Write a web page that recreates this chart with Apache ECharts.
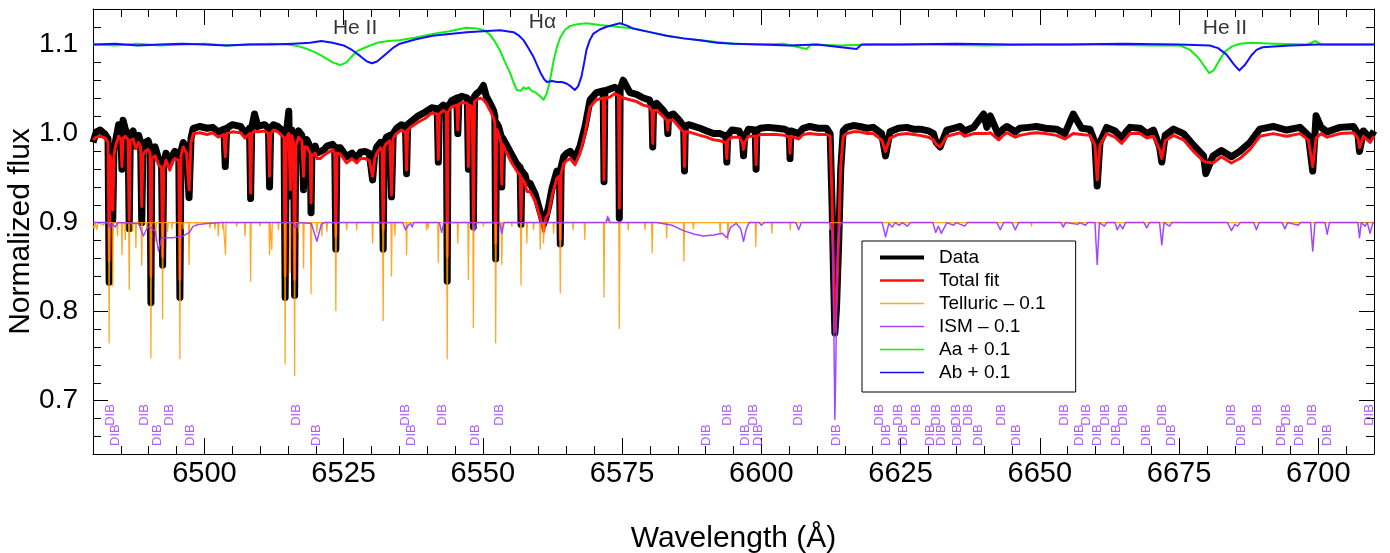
<!DOCTYPE html>
<html><head><meta charset="utf-8">
<script src="https://cdn.jsdelivr.net/npm/echarts@6.0.0/dist/echarts.min.js"></script>
<style>html,body{margin:0;padding:0;background:#fff}#chart{width:1390px;height:553px}</style>
</head><body><div id="chart"></div>
<script>
// ---------- axis ticks ----------
const xMajorTicks = [6500, 6525, 6550, 6575, 6600, 6625, 6650, 6675, 6700];
const xMinorTicks = [6485,6490,6495,6505,6510,6515,6520,6530,6535,6540,6545,6555,6560,6565,6570,6580,6585,6590,6595,6605,6610,6615,6620,6630,6635,6640,6645,6655,6660,6665,6670,6680,6685,6690,6695,6705];
const yMajorTicks = [0.7, 0.8, 0.9, 1.0, 1.1];
const yMinorTicks = [0.66,0.68,0.72,0.74,0.76,0.78,0.82,0.84,0.86,0.88,0.92,0.94,0.96,0.98,1.02,1.04,1.06,1.08,1.12];

// ---------- observed spectrum and total fit (shared wavelength grid) ----------
const waveFit = [
6480.0,6480.6,6481.3,6482.2,6482.7,6482.9,6483.1,6483.35,6483.55,6483.75,
6484.0,6484.6,6485.0,6485.2,6485.4,6485.8,6486.3,6486.5,6486.7,6487.2,
6487.7,6488.2,6488.55,6488.75,6488.95,6489.35,6489.9,6490.25,6490.4,6490.55,
6491.15,6491.75,6492.3,6492.5,6492.7,6493.1,6493.8,6494.2,6494.7,6495.4,
6495.6,6495.8,6496.2,6496.8,6497.25,6497.6,6498.0,6499.2,6500.5,6501.5,
6502.5,6503.5,6503.75,6504.0,6505.0,6506.5,6507.3,6508.1,6508.3,6508.5,
6509.0,6509.6,6510.8,6511.5,6511.7,6511.9,6512.4,6513.2,6513.9,6514.3,
6514.5,6514.7,6515.15,6515.45,6515.7,6516.0,6516.2,6516.4,6516.9,6517.5,
6517.8,6518.0,6518.4,6519.0,6519.15,6519.3,6519.9,6520.2,6520.8,6521.5,
6522.0,6523.0,6523.4,6523.6,6523.8,6524.4,6525.55,6526.5,6527.35,6528.0,
6528.85,6529.6,6530.2,6530.6,6530.95,6531.6,6531.9,6532.1,6532.3,6532.7,
6533.3,6533.6,6533.9,6534.5,6535.4,6536.1,6536.3,6536.5,6537.2,6538.4,
6539.6,6540.8,6541.8,6542.0,6542.2,6542.9,6543.45,6543.6,6543.75,6544.4,
6545.3,6545.5,6545.7,6546.2,6547.2,6547.4,6547.6,6547.8,6548.1,6548.3,
6548.5,6548.9,6549.5,6550.1,6550.6,6551.3,6551.9,6552.15,6552.3,6552.45,
6552.8,6553.25,6553.4,6553.55,6554.0,6555.2,6556.1,6556.7,6556.85,6557.0,
6557.6,6557.9,6558.5,6559.4,6560.3,6560.9,6561.3,6561.8,6562.4,6563.3,
6563.75,6563.9,6564.05,6564.5,6565.1,6565.7,6566.55,6567.45,6568.35,6569.25,
6570.4,6571.6,6571.75,6571.9,6572.8,6573.7,6574.35,6574.5,6574.65,6575.2,
6576.4,6577.6,6578.8,6579.9,6580.35,6580.5,6580.65,6581.2,6582.4,6583.05,
6583.2,6583.35,6584.2,6585.4,6586.05,6586.2,6586.35,6586.9,6588.0,6589.0,
6590.2,6591.4,6592.6,6593.65,6593.8,6593.95,6594.7,6596.0,6596.6,6596.8,
6597.0,6597.7,6598.9,6599.05,6599.2,6599.8,6601.2,6602.8,6604.2,6605.0,
6605.15,6605.3,6606.7,6607.5,6608.7,6610.2,6611.7,6612.35,6612.7,6613.0,
6613.2,6613.5,6613.9,6614.25,6614.7,6615.3,6616.5,6617.7,6619.0,6620.1,
6621.6,6622.3,6623.1,6624.6,6626.1,6627.3,6628.5,6630.0,6630.9,6631.4,
6632.1,6632.4,6633.3,6634.5,6635.7,6636.5,6638.1,6639.9,6640.5,6641.1,
6642.6,6643.4,6644.1,6645.6,6646.4,6648.0,6649.4,6651.0,6653.0,6654.5,
6656.0,6657.5,6659.0,6659.9,6660.3,6660.8,6662.0,6663.5,6664.7,6665.5,
6666.2,6668.0,6669.2,6670.4,6671.5,6671.9,6672.5,6674.0,6675.8,6677.6,
6679.4,6679.8,6681.1,6682.6,6684.4,6685.9,6687.7,6689.5,6691.9,6694.3,
6696.7,6698.2,6699.0,6699.6,6700.5,6701.6,6703.9,6706.3,6707.1,6707.4,
6708.1,6709.3,6710.0];

const fluxFit = [
0.993,0.996,0.997,0.995,0.990,0.857,0.975,0.960,0.914,0.975,
0.985,0.997,0.993,0.963,0.995,0.997,0.993,0.903,0.992,0.994,
0.983,0.990,0.985,0.918,0.975,0.980,0.982,0.978,0.840,0.972,
0.975,0.965,0.962,0.862,0.960,0.970,0.959,0.968,0.972,0.970,
0.836,0.975,0.985,0.978,0.937,0.990,1.000,1.001,0.999,1.001,
0.996,0.999,0.974,1.000,1.002,1.001,0.995,1.000,0.933,1.000,
1.003,1.002,1.003,1.000,0.952,1.000,1.004,1.002,0.998,0.995,
0.840,0.995,1.000,0.937,0.998,0.990,0.836,0.985,0.996,0.992,
0.952,0.985,0.985,0.978,0.922,0.975,0.978,0.972,0.972,0.976,
0.978,0.982,0.978,0.885,0.978,0.977,0.967,0.972,0.967,0.972,
0.972,0.970,0.952,0.972,0.978,0.984,0.980,0.892,0.985,0.989,
0.992,0.931,0.995,1.000,1.004,1.002,0.959,1.004,1.008,1.013,
1.017,1.023,1.022,0.971,1.022,1.026,1.024,0.862,1.024,1.030,
1.032,1.004,1.033,1.035,1.034,0.963,1.032,1.034,1.030,0.902,
1.036,1.038,1.040,1.038,1.034,1.026,1.018,1.012,0.877,1.005,
1.000,0.990,0.943,0.988,0.982,0.967,0.958,0.953,0.903,0.950,
0.944,0.935,0.935,0.924,0.905,0.890,0.905,0.910,0.930,0.950,
0.952,0.881,0.955,0.966,0.970,0.972,0.965,0.978,1.000,1.030,
1.038,1.040,0.948,1.040,1.041,1.045,1.043,0.916,1.042,1.040,
1.038,1.036,1.032,1.030,1.025,0.989,1.026,1.026,1.019,1.015,
1.004,1.015,1.015,1.006,1.002,0.963,1.002,1.002,1.000,0.998,
0.996,0.993,0.992,0.990,0.972,0.992,0.996,0.996,0.990,0.982,
0.990,0.997,0.997,0.965,0.997,0.999,0.999,0.999,0.998,0.996,
0.978,0.997,0.994,0.999,1.000,0.999,0.999,0.997,0.926,0.832,
0.778,0.814,0.888,0.963,0.997,1.000,1.002,1.002,1.000,1.000,
0.993,0.980,0.995,0.999,1.000,0.999,0.998,0.996,0.993,0.988,
0.985,0.987,0.997,0.999,1.001,0.997,1.000,1.000,1.000,1.001,
0.993,0.998,1.001,0.996,0.998,1.000,1.001,1.000,0.998,0.994,
1.000,0.999,0.998,0.987,0.948,0.987,1.000,0.996,0.989,0.995,
1.000,1.000,0.995,0.997,0.982,0.972,0.992,0.998,0.993,0.980,
0.969,0.968,0.967,0.974,0.967,0.972,0.982,0.997,1.000,0.997,
1.000,0.993,0.963,0.995,1.000,0.996,1.000,1.001,0.995,0.984,
0.997,0.990,0.997];

const fluxData = [
0.990,1.002,1.004,0.999,0.994,0.833,0.975,0.955,0.903,0.980,
0.990,1.010,1.000,0.960,1.015,1.005,0.998,0.893,0.998,1.003,
0.986,0.998,0.990,0.900,0.980,0.990,0.992,0.985,0.810,0.978,
0.985,0.972,0.970,0.852,0.965,0.978,0.966,0.975,0.980,0.978,
0.816,0.980,0.990,0.985,0.928,0.995,1.006,1.008,1.006,1.007,
1.002,1.005,0.963,1.006,1.010,1.008,1.000,1.006,0.927,1.007,
1.022,1.008,1.010,1.006,0.940,1.006,1.010,1.008,1.004,1.000,
0.816,1.000,1.025,0.930,1.004,0.995,0.818,0.990,1.003,0.998,
0.937,0.990,0.993,0.985,0.911,0.980,0.986,0.978,0.980,0.982,
0.986,0.988,0.985,0.870,0.984,0.984,0.974,0.978,0.972,0.979,
0.980,0.978,0.948,0.978,0.985,0.990,0.985,0.870,0.990,0.996,
0.998,0.929,1.000,1.006,1.010,1.008,0.955,1.010,1.014,1.020,
1.024,1.029,1.028,0.968,1.028,1.032,1.030,0.834,1.030,1.037,
1.040,1.000,1.040,1.042,1.040,0.960,1.038,1.040,1.036,0.895,
1.042,1.045,1.048,1.054,1.042,1.034,1.026,1.020,0.859,1.012,
1.008,0.998,0.940,0.995,0.990,0.976,0.966,0.962,0.898,0.958,
0.953,0.945,0.944,0.932,0.912,0.898,0.905,0.918,0.938,0.958,
0.958,0.876,0.962,0.974,0.978,0.980,0.972,0.986,1.008,1.038,
1.046,1.048,0.946,1.048,1.050,1.052,1.050,0.905,1.050,1.060,
1.046,1.044,1.040,1.038,1.030,0.985,1.032,1.034,1.026,1.020,
1.000,1.020,1.022,1.014,1.008,0.958,1.008,1.010,1.008,1.006,
1.003,1.000,1.000,0.997,0.968,0.998,1.004,1.003,0.995,0.975,
0.996,1.005,1.004,0.960,1.004,1.006,1.007,1.006,1.005,1.002,
0.972,1.003,1.000,1.006,1.008,1.006,1.006,1.000,0.920,0.830,
0.776,0.805,0.880,0.960,1.003,1.007,1.009,1.008,1.006,1.007,
1.000,0.975,1.002,1.006,1.007,1.005,1.005,1.003,1.000,0.990,
0.985,0.990,1.004,1.006,1.008,1.003,1.007,1.022,1.007,1.020,
0.998,1.005,1.008,1.002,1.006,1.007,1.008,1.006,1.005,1.000,
1.022,1.006,1.005,0.990,0.941,0.990,1.007,1.003,0.995,1.002,
1.007,1.006,1.000,1.004,0.985,0.968,0.998,1.005,1.000,0.987,
0.975,0.955,0.975,0.981,0.974,0.980,0.990,1.005,1.008,1.004,
1.007,0.998,0.958,1.020,1.007,1.002,1.007,1.008,1.000,0.980,
1.003,0.995,1.003];

// ---------- telluric model (- 0.1) ----------
const telluricPoints = [
[6480.0,0.897],[6480.2,0.893],[6480.4,0.9],[6480.7,0.892],[6480.9,0.9],[6481.9,0.897],[6482.0,0.9],
[6482.8,0.9],[6482.9,0.765],[6483.0,0.9],[6483.45,0.9],[6483.55,0.829],[6483.65,0.9],
[6484.3,0.9],[6484.4,0.885],[6484.5,0.9],[6485.1,0.9],[6485.2,0.864],[6485.3,0.9],
[6485.7,0.9],[6485.8,0.881],[6485.9,0.9],[6486.4,0.9],[6486.5,0.825],[6486.6,0.9],
[6487.0,0.9],[6487.1,0.89],[6487.2,0.9],[6487.6,0.9],[6487.7,0.872],[6487.8,0.9],
[6488.65,0.9],[6488.75,0.852],[6488.85,0.9],[6489.6,0.9],[6489.65,0.892],[6489.75,0.9],
[6490.3,0.9],[6490.4,0.748],[6490.5,0.9],[6491.2,0.9],[6491.3,0.879],[6491.4,0.9],
[6492.4,0.9],[6492.5,0.792],[6492.6,0.9],[6493.3,0.9],[6493.4,0.89],[6493.5,0.9],
[6494.1,0.9],[6494.15,0.893],[6494.25,0.9],[6495.5,0.9],[6495.6,0.747],[6495.7,0.9],
[6496.1,0.9],[6496.2,0.893],[6496.3,0.9],[6497.15,0.9],[6497.25,0.853],[6497.35,0.9],
[6498.5,0.9],[6498.6,0.896],[6498.7,0.9],[6500.9,0.9],[6501.0,0.894],[6501.1,0.9],
[6501.8,0.9],[6501.9,0.893],[6502.0,0.9],[6502.4,0.9],[6502.5,0.885],[6502.6,0.9],
[6503.2,0.9],[6503.3,0.893],[6503.4,0.9],[6503.7,0.9],[6503.8,0.864],[6503.9,0.9],
[6505.7,0.9],[6505.8,0.896],[6505.9,0.9],[6507.2,0.9],[6507.3,0.885],[6507.4,0.9],
[6508.2,0.9],[6508.3,0.834],[6508.4,0.9],[6509.9,0.9],[6510.0,0.896],[6510.1,0.9],
[6511.6,0.9],[6511.7,0.864],[6511.8,0.9],[6512.0,0.9],[6512.1,0.870],[6512.2,0.9],
[6513.2,0.9],[6513.3,0.892],[6513.4,0.9],[6514.4,0.9],[6514.5,0.741],[6514.6,0.9],
[6515.3,0.9],[6515.4,0.844],[6515.5,0.9],[6516.1,0.9],[6516.2,0.728],[6516.3,0.9],
[6516.8,0.9],[6516.9,0.889],[6517.0,0.9],[6517.7,0.9],[6517.8,0.849],[6517.9,0.9],
[6519.05,0.9],[6519.15,0.820],[6519.25,0.9],[6520.1,0.9],[6520.2,0.889],[6520.3,0.9],
[6521.0,0.9],[6521.1,0.885],[6521.2,0.9],[6521.9,0.9],[6522.0,0.89],[6522.1,0.9],
[6523.5,0.9],[6523.6,0.801],[6523.7,0.9],[6525.45,0.9],[6525.55,0.892],[6525.65,0.9],
[6527.25,0.9],[6527.35,0.892],[6527.45,0.9],[6530.1,0.9],[6530.2,0.877],[6530.3,0.9],
[6532.0,0.9],[6532.1,0.790],[6532.2,0.9],[6533.5,0.9],[6533.6,0.840],[6533.7,0.9],
[6534.1,0.9],[6534.2,0.885],[6534.3,0.9],[6536.2,0.9],[6536.3,0.864],[6536.4,0.9],
[6539.8,0.9],[6539.9,0.892],[6540.0,0.9],[6540.1,0.9],[6540.2,0.894],[6540.3,0.9],
[6541.9,0.9],[6542.0,0.855],[6542.1,0.9],[6543.5,0.9],[6543.6,0.747],[6543.7,0.9],
[6545.4,0.9],[6545.5,0.877],[6545.6,0.9],[6547.3,0.9],[6547.4,0.836],[6547.5,0.9],
[6548.2,0.9],[6548.3,0.782],[6548.4,0.9],[6550.0,0.9],[6550.1,0.896],[6550.2,0.9],
[6552.2,0.9],[6552.3,0.765],[6552.4,0.9],[6553.3,0.9],[6553.4,0.853],[6553.5,0.9],
[6555.1,0.9],[6555.2,0.896],[6555.3,0.9],[6556.75,0.9],[6556.85,0.830],[6556.95,0.9],
[6557.8,0.9],[6557.9,0.877],[6558.0,0.9],[6559.0,0.9],[6559.1,0.892],[6559.2,0.9],
[6560.2,0.9],[6560.3,0.870],[6560.4,0.9],[6560.8,0.9],[6560.9,0.877],[6561.0,0.9],
[6562.6,0.9],[6562.7,0.888],[6562.8,0.9],[6563.8,0.9],[6563.9,0.821],[6564.0,0.9],
[6566.1,0.9],[6566.2,0.892],[6566.3,0.9],[6568.2,0.9],[6568.3,0.881],[6568.4,0.9],
[6571.65,0.9],[6571.75,0.816],[6571.85,0.9],[6574.4,0.9],[6574.5,0.781],[6574.6,0.9],
[6576.0,0.9],[6576.1,0.892],[6576.2,0.9],[6579.0,0.9],[6579.1,0.892],[6579.2,0.9],
[6580.3,0.9],[6580.4,0.866],[6580.5,0.9],[6582.9,0.9],[6583.0,0.883],[6583.1,0.9],
[6586.0,0.9],[6586.1,0.857],[6586.2,0.9],[6587.7,0.9],[6587.8,0.893],[6587.9,0.9],
[6592.5,0.9],[6592.6,0.888],[6592.7,0.9],[6593.9,0.9],[6594.0,0.881],[6594.1,0.9],
[6598.9,0.9],[6599.0,0.873],[6599.1,0.9],[6601.8,0.9],[6601.9,0.888],[6602.0,0.9],
[6605.1,0.9],[6605.2,0.892],[6605.3,0.9],[6612.2,0.9],[6612.3,0.892],[6612.4,0.9],
[6648.4,0.9],[6648.5,0.896],[6648.6,0.9],[6710.0,0.9]];

// ---------- interstellar model (- 0.1) ----------
const ismPoints = [
[6480,0.9],[6482.7,0.9],[6483.1,0.894],[6483.5,0.898],[6484.0,0.895],[6484.4,0.9],
[6488.2,0.899],[6489.05,0.885],[6489.8,0.895],[6490.5,0.894],[6491.2,0.89],[6491.75,0.868],
[6492.3,0.883],[6493.5,0.883],[6494.4,0.883],[6495.5,0.884],[6496.2,0.885],[6497.3,0.889],
[6497.6,0.892],[6498.0,0.896],[6499.0,0.898],[6500.5,0.899],[6503,0.9],
[6515.9,0.9],[6516.4,0.894],[6516.9,0.9],[6519.2,0.899],[6520.2,0.879],[6521.0,0.898],[6521.5,0.9],
[6535.6,0.9],[6536.1,0.892],[6536.6,0.897],[6537.0,0.899],[6537.3,0.895],[6537.6,0.9],
[6542.2,0.9],[6542.6,0.889],[6543.0,0.9],[6548.2,0.9],[6548.5,0.891],[6548.9,0.9],
[6553.0,0.9],[6553.4,0.888],[6553.8,0.9],
[6572.1,0.9],[6572.3,0.904],[6572.4,0.907],[6572.5,0.902],[6572.6,0.905],[6572.8,0.9],
[6581.2,0.9],[6584,0.897],[6586,0.891],[6588,0.887],[6589.6,0.885],[6591.5,0.886],[6593.0,0.888],
[6593.8,0.883],[6594.5,0.895],[6595.5,0.899],[6596.3,0.893],[6596.8,0.879],[6597.3,0.893],[6597.8,0.9],
[6599.6,0.9],[6600.0,0.897],[6600.5,0.9],[6606.2,0.9],[6606.7,0.892],[6607.2,0.9],
[6612.3,0.9],[6612.7,0.89],[6612.9,0.85],[6613.05,0.76],[6613.2,0.679],[6613.35,0.73],
[6613.5,0.8],[6613.7,0.87],[6614.0,0.895],[6614.4,0.9],
[6621.7,0.9],[6622.3,0.884],[6622.9,0.899],[6623.5,0.895],[6624.0,0.9],[6624.8,0.897],[6625.3,0.9],
[6626.2,0.896],[6626.8,0.9],[6630.8,0.9],[6631.3,0.889],[6631.8,0.896],[6632.3,0.888],[6632.9,0.895],
[6633.3,0.9],[6634.5,0.897],[6635,0.9],[6636.5,0.896],[6637,0.9],
[6642.3,0.9],[6642.9,0.892],[6643.5,0.9],[6645.0,0.9],[6645.6,0.892],[6646.2,0.9],
[6653.8,0.9],[6654.2,0.895],[6654.6,0.9],[6656.8,0.898],[6657.2,0.9],[6658.2,0.897],[6658.6,0.9],
[6659.9,0.9],[6660.3,0.853],[6660.7,0.9],[6661.6,0.896],[6662,0.9],
[6663.5,0.9],[6663.9,0.892],[6664.4,0.898],[6664.9,0.893],[6665.4,0.9],
[6668.7,0.9],[6669.2,0.894],[6669.7,0.9],[6671.5,0.9],[6671.9,0.875],[6672.3,0.9],[6673.3,0.896],[6673.7,0.9],
[6683.7,0.9],[6684.4,0.891],[6685.0,0.898],[6685.5,0.896],[6686,0.9],
[6688.4,0.9],[6688.9,0.892],[6689.4,0.9],[6693.5,0.9],[6694.0,0.893],[6694.5,0.9],[6696.4,0.897],[6696.8,0.9],
[6698.6,0.9],[6699.0,0.868],[6699.4,0.9],[6701.2,0.9],[6701.6,0.887],[6702.0,0.9],
[6707.1,0.9],[6707.4,0.883],[6707.7,0.9],[6708.4,0.896],[6708.8,0.9],[6709.3,0.888],[6709.8,0.9],[6710,0.9]];

// ---------- stellar components (+ 0.1) ----------
const aaPoints = [
[6480,1.1],[6484,1.099],[6488,1.101],[6492,1.099],[6496,1.1],[6500,1.101],[6504,1.099],[6508,1.1],
[6512,1.101],[6515,1.1],[6517,1.098],[6518.5,1.095],[6520,1.091],[6521.5,1.086],[6523,1.080],
[6524.4,1.077],[6525.5,1.080],[6526.5,1.087],[6527.5,1.093],[6529,1.097],[6531,1.102],[6533,1.104],
[6535,1.105],[6538,1.108],[6541,1.112],[6544,1.115],[6547,1.119],[6549,1.118],[6550.3,1.116],
[6551.3,1.111],[6552.2,1.103],[6553.1,1.093],[6554,1.080],[6554.9,1.068],[6555.6,1.056],[6556.1,1.049],
[6556.8,1.048],[6557.3,1.052],[6557.8,1.050],[6558.2,1.052],[6558.8,1.048],[6559.5,1.046],[6560.3,1.042],
[6560.9,1.038],[6561.4,1.044],[6561.8,1.053],[6562.3,1.068],[6562.7,1.082],[6563.3,1.097],[6563.9,1.108],
[6564.8,1.117],[6565.7,1.121],[6567,1.123],[6568.6,1.124],[6571,1.122],[6574,1.120],[6577,1.118],
[6580,1.114],[6583,1.110],[6586,1.107],[6589,1.105],[6592,1.103],[6595,1.101],[6600,1.100],[6604,1.101],
[6608.1,1.095],[6609,1.1],[6614,1.099],[6620,1.1],[6630,1.1],[6640,1.099],[6650,1.1],[6660,1.1],
[6670,1.099],[6675.2,1.099],[6677,1.094],[6678.5,1.085],[6679.5,1.076],[6680.4,1.068],[6681.2,1.071],
[6682.2,1.082],[6683.2,1.092],[6684.5,1.098],[6685.9,1.101],[6688,1.102],[6692,1.101],[6698,1.100],
[6699.5,1.104],[6700.5,1.100],[6705,1.1],[6710,1.1]];

const abPoints = [
[6480,1.1],[6484,1.101],[6488,1.099],[6492,1.1],[6496,1.101],[6500,1.1],[6504,1.099],[6508,1.1],
[6512,1.1],[6516,1.101],[6519,1.102],[6521,1.104],[6523,1.102],[6525,1.099],[6526.5,1.094],[6528,1.087],
[6529.2,1.081],[6530.1,1.079],[6531,1.081],[6532.5,1.089],[6534,1.097],[6535.1,1.101],[6538,1.106],
[6541,1.110],[6544,1.112],[6547.1,1.114],[6550,1.115],[6553.1,1.116],[6555.5,1.114],[6556.5,1.110],
[6557.3,1.105],[6558.2,1.096],[6559.1,1.086],[6560.3,1.069],[6561,1.061],[6561.5,1.058],[6562.4,1.059],
[6563.3,1.058],[6564.2,1.058],[6565.1,1.056],[6565.8,1.053],[6566.5,1.049],[6567.1,1.053],[6567.7,1.064],
[6568.2,1.080],[6568.6,1.094],[6569.2,1.105],[6569.8,1.112],[6571,1.117],[6572.2,1.120],[6573.4,1.122],
[6574.6,1.124],[6576,1.121],[6577,1.118],[6580,1.114],[6583,1.110],[6586,1.107],[6589,1.105],[6592,1.102],
[6595,1.101],[6600,1.1],[6605,1.099],[6610,1.1],[6617.1,1.095],[6618,1.1],[6625,1.1],[6635,1.101],
[6645,1.1],[6655,1.1],[6665,1.101],[6675,1.1],[6680.5,1.099],[6682,1.096],[6683.5,1.089],[6684.8,1.078],
[6685.8,1.071],[6686.8,1.077],[6688,1.088],[6688.9,1.094],[6690,1.097],[6692,1.098],[6695,1.099],
[6700,1.1],[6705,1.1],[6710,1.1]];

// ---------- DIB markers (wavelengths) ----------
const dibUpper = [6483.07,6489.17,6493.72,6516.46,6536.16,6542.73,6552.91,6593.95,6598.56,6606.64,6621.18,6624.6,6627.78,6631.37,6634.96,6637.16,6643.16,6654.34,6658.42,6661.83,6664.99,6671.99,6684.45,6689.05,6694.33,6699.0,6709.1];
const dibLower = [6483.97,6491.56,6497.43,6520.18,6537.23,6548.6,6590.07,6597.07,6599.46,6613.54,6622.51,6625.49,6630.41,6632.39,6635.19,6638.96,6645.73,6657.09,6660.39,6663.68,6669.19,6673.68,6686.12,6693.43,6696.59,6701.62];
const dibRowLevels = [0.6838, 0.6613];

// ---------- line identifications ----------
const lineIdNames = ['He II', 'Hα', 'He II'];
const lineIdWave = [6527.06, 6560.7, 6683.25];
const lineIdLevel = [1.118, 1.125, 1.118];

// ---------- chart ----------
const FONT = '"Liberation Sans", Arial, Helvetica, sans-serif';
const chart = echarts.init(document.getElementById('chart'), null, {renderer: 'canvas'});

function lineSeries(name, data, color, width, opacity) {
  return {
    name, type: 'line', data, symbol: 'none', showSymbol: false,
    lineStyle: {color, width, opacity, join: 'round'},
    itemStyle: {color}, animation: false, silent: true, clip: true
  };
}

const xBase = {type: 'value', min: 6480, max: 6710, splitLine: {show: false}};
const yBase = {type: 'value', min: 0.64, max: 1.14, splitLine: {show: false}};
const axisCol = '#000';

const option = {
  animation: false,
  textStyle: {fontFamily: FONT},
  grid: {left: 93, right: 16, top: 9, bottom: 99, containLabel: false, outerBoundsMode: 'none'},
  xAxis: [
    Object.assign({}, xBase, {
      position: 'bottom',
      axisLine: {show: true, lineStyle: {color: axisCol, width: 1}},
      axisTick: {show: true, inside: true, length: 16, customValues: xMajorTicks, lineStyle: {color: axisCol}},
      axisLabel: {show: true, customValues: xMajorTicks, fontSize: 29, color: '#000', margin: 5, fontFamily: FONT,
                  formatter: v => String(Math.round(v))},
      name: 'Wavelength (Å)', nameLocation: 'middle', nameGap: 70, nameMoveOverlap: false,
      nameTextStyle: {fontSize: 30, color: '#000', fontFamily: FONT}
    }),
    Object.assign({}, xBase, {
      position: 'bottom', axisLine: {show: false},
      axisTick: {show: true, inside: true, length: 8, customValues: xMinorTicks, lineStyle: {color: axisCol}},
      axisLabel: {show: false}
    }),
    Object.assign({}, xBase, {
      position: 'top',
      axisLine: {show: true, lineStyle: {color: axisCol, width: 1}},
      axisTick: {show: true, inside: true, length: 16, customValues: xMajorTicks, lineStyle: {color: axisCol}},
      axisLabel: {show: false}
    }),
    Object.assign({}, xBase, {
      position: 'top', axisLine: {show: false},
      axisTick: {show: true, inside: true, length: 8, customValues: xMinorTicks, lineStyle: {color: axisCol}},
      axisLabel: {show: false}
    })
  ],
  yAxis: [
    Object.assign({}, yBase, {
      position: 'left',
      axisLine: {show: true, lineStyle: {color: axisCol, width: 1}},
      axisTick: {show: true, inside: true, length: 15, customValues: yMajorTicks, lineStyle: {color: axisCol}},
      axisLabel: {show: true, customValues: yMajorTicks, fontSize: 28, color: '#000', margin: 15, fontFamily: FONT,
                  formatter: v => Number(v).toFixed(1)},
      name: 'Normalized flux', nameLocation: 'middle', nameGap: 57, nameMoveOverlap: false,
      nameTextStyle: {fontSize: 30, color: '#000', fontFamily: FONT}
    }),
    Object.assign({}, yBase, {
      position: 'left', axisLine: {show: false},
      axisTick: {show: true, inside: true, length: 8, customValues: yMinorTicks, lineStyle: {color: axisCol}},
      axisLabel: {show: false}
    }),
    Object.assign({}, yBase, {
      position: 'right',
      axisLine: {show: true, lineStyle: {color: axisCol, width: 1}},
      axisTick: {show: true, inside: true, length: 15, customValues: yMajorTicks, lineStyle: {color: axisCol}},
      axisLabel: {show: false}
    }),
    Object.assign({}, yBase, {
      position: 'right', axisLine: {show: false},
      axisTick: {show: true, inside: true, length: 8, customValues: yMinorTicks, lineStyle: {color: axisCol}},
      axisLabel: {show: false}
    })
  ],
  legend: {
    orient: 'vertical', left: 862, top: 241,
    itemWidth: 44, itemHeight: 14, itemGap: 2,
    padding: [6, 30, 9, 16],
    backgroundColor: '#fff', borderColor: '#000', borderWidth: 1, borderRadius: 0,
    textStyle: {fontSize: 19, color: '#000', fontFamily: FONT, lineHeight: 21, padding: [0, 0, 0, 10]},
    itemStyle: {opacity: 0},
    selectedMode: false,
    data: [
      {name: 'Data', lineStyle: {width: 4}},
      {name: 'Total fit', lineStyle: {width: 2.7}},
      {name: 'Telluric – 0.1', lineStyle: {width: 1.5}},
      {name: 'ISM – 0.1', lineStyle: {width: 1.7}},
      {name: 'Aa + 0.1', lineStyle: {width: 1.3}},
      {name: 'Ab + 0.1', lineStyle: {width: 1.3}}
    ]
  },
  series: [
    lineSeries('Data', waveFit.map((w, i) => [w, fluxData[i]]), '#000000', 7, 1),
    lineSeries('Total fit', waveFit.map((w, i) => [w, fluxFit[i]]), '#ff1010', 3, 1),
    lineSeries('Telluric – 0.1', telluricPoints, '#ff9900', 1.3, 0.85),
    lineSeries('ISM – 0.1', ismPoints, '#9933ff', 1.5, 0.9),
    lineSeries('Aa + 0.1', aaPoints, '#11ee11', 2, 1),
    lineSeries('Ab + 0.1', abPoints, '#1010ff', 2, 1),
    {
      name: 'DIB', type: 'scatter', symbol: 'circle', symbolSize: 1, silent: true, animation: false,
      itemStyle: {color: 'rgba(0,0,0,0)'},
      data: dibUpper.map(w => [w, dibRowLevels[0]]).concat(dibLower.map(w => [w, dibRowLevels[1]])),
      label: {show: true, position: 'inside', formatter: 'DIB', rotate: 90, fontSize: 13,
              color: '#9933ff', fontFamily: FONT}
    },
    {
      name: 'lineIds', type: 'scatter', symbol: 'circle', symbolSize: 1, silent: true, animation: false,
      itemStyle: {color: 'rgba(0,0,0,0)'},
      data: lineIdWave.map((w, i) => ({value: [w, lineIdLevel[i]], name: lineIdNames[i]})),
      label: {show: true, position: 'inside', formatter: p => p.name, fontSize: 21,
              color: '#000', fontFamily: FONT}
    }
  ]
};
chart.setOption(option);
</script></body></html>
